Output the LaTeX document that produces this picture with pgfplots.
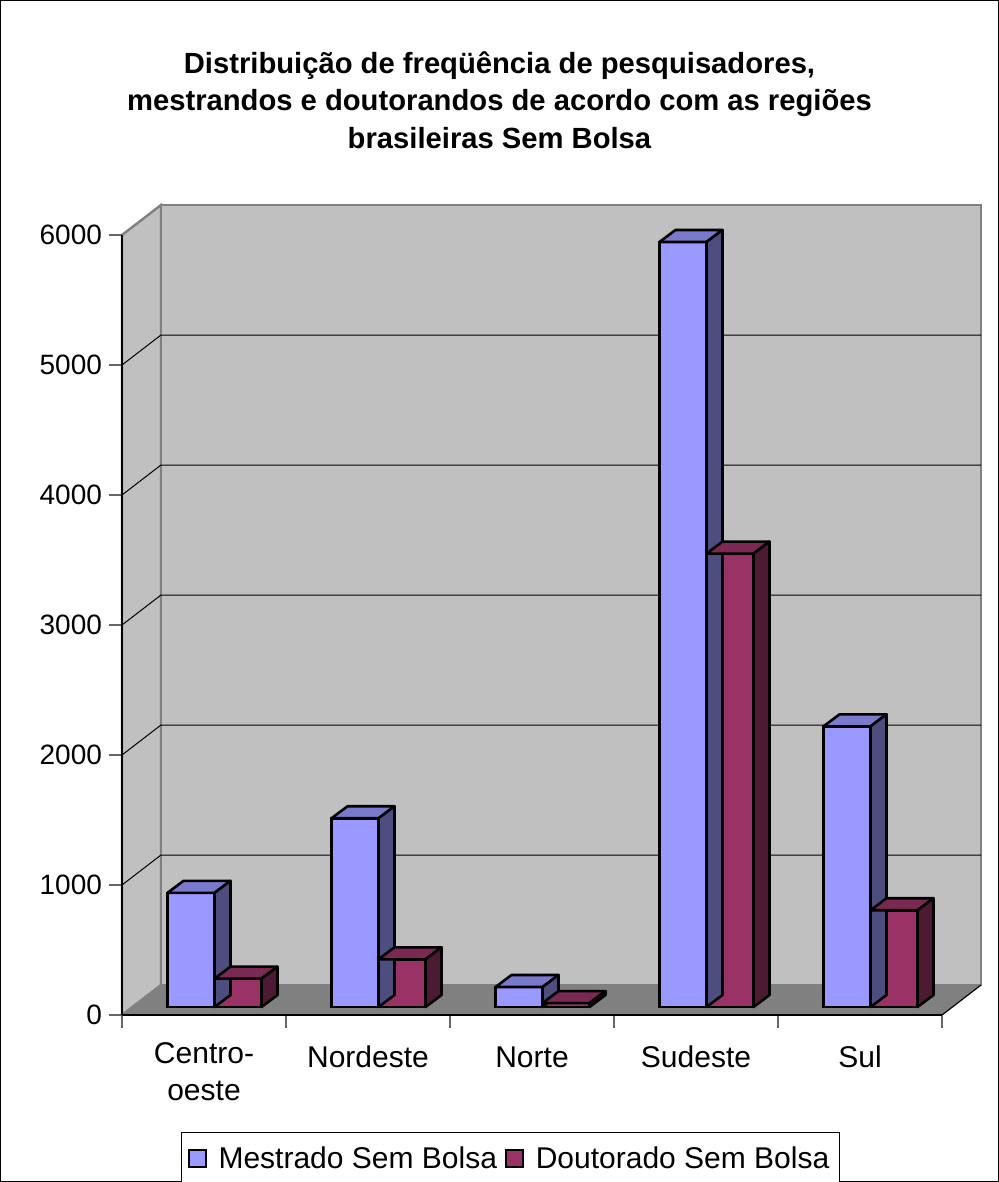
\documentclass[border=0pt]{standalone}
\usepackage{pgfplots}
\pgfplotsset{compat=1.18}
\usepackage{fontspec}
\setmainfont{Liberation Sans}
\definecolor{mfront}{HTML}{9999FF}
\definecolor{mtop}{HTML}{7A7ACC}
\definecolor{mside}{HTML}{4D4D80}
\definecolor{dfront}{HTML}{993366}
\definecolor{dtop}{HTML}{7A2952}
\definecolor{dside}{HTML}{4D1A33}
\definecolor{wallc}{HTML}{C0C0C0}
\definecolor{floorc}{HTML}{808080}
\pgfdeclareplotmark{nothing}{}
\pgfplotsset{
  box3d/.style n args={2}{%
    forget plot, scatter, only marks, mark=nothing,
    visualization depends on={rawy \as \vv},
    scatter/@pre marker code/.code={%
      \pgfmathsetmacro\hb{6-\vv*0.065}%
      \pgfmathsetmacro\hh{-\vv*0.065}%
      \filldraw[fill=#1, draw=black, line width=1.3pt, line join=round]
        (-11.75pt,0pt) -- (11.75pt,0pt) -- (19.75pt,6pt) -- (-3.75pt,6pt) -- cycle;
      \filldraw[fill=#2, draw=black, line width=1.3pt, line join=round]
        (11.75pt,0pt) -- (19.75pt,6pt) -- ({19.75pt},{\hb pt}) -- ({11.75pt},{\hh pt}) -- cycle;
    },
    scatter/@post marker code/.code={},
  },
}
\begin{document}
\begin{tikzpicture}
\useasboundingbox (0,0) rectangle (499.5pt,-591pt);
\draw[black, line width=0.6pt] (0.4pt,-0.4pt) rectangle (499.1pt,-590.6pt);
\node[align=center, font=\bfseries\fontsize{14.6}{18.75}\selectfont] at (249.75pt,-50pt)
  {Distribuição de freqüência de pesquisadores,\\mestrandos e doutorandos de acordo com as regiões\\brasileiras Sem Bolsa};
\begin{axis}[
  at={(61pt,-507.5pt)}, anchor=south west,
  x=82pt, y=0.065pt,
  xmin=-0.5, xmax=4.5, ymin=0, ymax=6000,
  clip=false, axis on top,
  axis x line*=bottom, axis y line*=left,
  axis line style={black, line width=0.9pt},
  xtick={-0.5,0.5,1.5,2.5,3.5,4.5}, xticklabels={,,,,,},
  extra x ticks={0,1,2,3,4},
  extra x tick labels={{Centro-\\oeste},Nordeste,Norte,Sudeste,Sul},
  extra x tick style={major tick length=0pt, xticklabel style={align=center, anchor=north, yshift=-10pt,
    font=\fontsize{15}{18.5}\selectfont, execute at begin node=\strut}},
  ytick={0,1000,2000,3000,4000,5000,6000},
  tick align=outside, major tick length=6.5pt,
  tick style={black!60, line width=0.9pt},
  yticklabel style={font=\fontsize{14}{18}\selectfont},
  /pgf/number format/assume math mode=true,
  /pgf/number format/1000 sep={},
  scaled y ticks=false,
  legend style={at={(0.4738,-0.15)}, anchor=north, legend columns=2, draw=black, line width=0.6pt,
    font=\fontsize{15}{17}\selectfont, inner xsep=3pt, inner ysep=5pt,
    /tikz/every odd column/.append style={column sep=4pt},
    /tikz/every even column/.append style={column sep=2pt}},
  legend image code/.code={\draw[#1, draw=black, line width=0.9pt] (0pt,-4pt) rectangle (8.5pt,4.5pt);},
]
% side wall
\filldraw[fill=wallc, draw=floorc, line width=1.2pt] (axis cs:-0.5,0) -- (axis cs:-0.5,6000) -- ++(19.5pt,15pt) -- ++(0pt,-390pt) -- cycle;
% back wall
\filldraw[fill=wallc, draw=floorc, line width=1.2pt] ([shift={(19.5pt,15pt)}]axis cs:-0.5,0) rectangle ([shift={(19.5pt,15pt)}]axis cs:4.5,6000);
% floor
\fill[floorc] (axis cs:-0.5,0) -- (axis cs:4.5,0) -- ++(19.5pt,15pt) -- ([shift={(19.5pt,15pt)}]axis cs:-0.5,0) -- cycle;
\draw[black, line width=0.6pt] (axis cs:4.5,0) -- ++(19.5pt,15pt);
% grid
\pgfplotsinvokeforeach{1000,2000,3000,4000,5000}{
  \draw[black, line width=0.5pt] (axis cs:-0.5,#1) -- ++(19.5pt,15pt) -- ++(410pt,0pt);
}
\addlegendimage{fill=mfront}
\addlegendentry{Mestrado Sem Bolsa}
\addlegendimage{fill=dfront}
\addlegendentry{Doutorado Sem Bolsa}
% Mestrado
\addplot[forget plot, ybar, bar width=23.5pt, bar shift=-11.75pt, fill=mfront, draw=black, line width=1.3pt, xshift=5.25pt, yshift=4pt]
  coordinates {(0,878) (1,1452) (2,154) (3,5885) (4,2159)};
\addplot[box3d={mtop}{mside}, xshift=-6.5pt, yshift=4pt]
  coordinates {(0,878) (1,1452) (2,154) (3,5885) (4,2159)};
% Doutorado
\addplot[forget plot, ybar, bar width=23.5pt, bar shift=11.75pt, fill=dfront, draw=black, line width=1.3pt, xshift=5.25pt, yshift=4pt]
  coordinates {(0,218) (1,367) (2,30) (3,3488) (4,744)};
\addplot[box3d={dtop}{dside}, xshift=17pt, yshift=4pt]
  coordinates {(0,218) (1,367) (2,30) (3,3488) (4,744)};
\end{axis}
\end{tikzpicture}
\end{document}
